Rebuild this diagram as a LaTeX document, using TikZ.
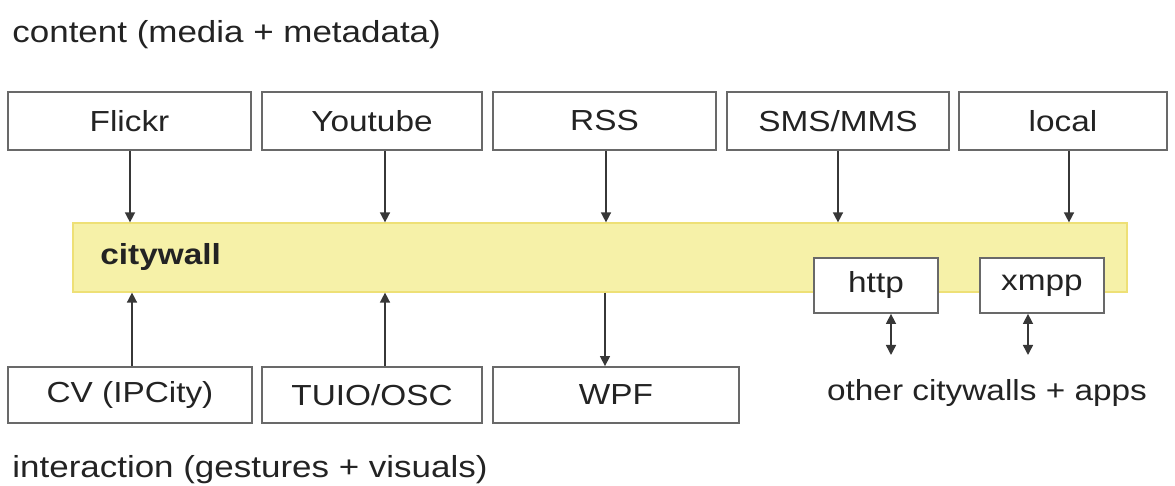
\documentclass[tikz,border=0pt]{standalone}
\usepackage{fontspec}
\setmainfont{Liberation Sans}[FakeStretch=1.15]
\usetikzlibrary{positioning,arrows.meta}
\definecolor{wallcolor}{RGB}{246,241,168}
\definecolor{wallborder}{RGB}{238,224,118}
\definecolor{boxline}{RGB}{105,105,105}
\definecolor{inkcolor}{RGB}{35,35,35}
\definecolor{arrowcolor}{RGB}{55,55,55}

\begin{document}
\begin{tikzpicture}[x=0.5pt, y=-0.5pt,
    srcbox/.style={rectangle, draw=boxline, line width=0.9pt, fill=white, minimum height=29pt, inner sep=0pt, font=\fontsize{14.5}{16}\selectfont, text=inkcolor},
    protobox/.style={srcbox, minimum width=62pt, minimum height=27.5pt},
    wall/.style={rectangle, draw=wallborder, fill=wallcolor, line width=0.6pt, minimum width=527pt, minimum height=34.5pt, inner sep=0pt},
    feed/.style={-{Triangle[width=5pt,length=5pt]}, line width=0.75pt, arrowcolor},
    link/.style={{Triangle[width=5pt,length=5pt]}-{Triangle[width=5pt,length=5pt]}, line width=0.75pt, arrowcolor},
    note/.style={font=\fontsize{14.5}{16}\selectfont, text=inkcolor, inner sep=0pt},
    heading/.style={note, font=\fontsize{15.2}{17}\selectfont, anchor=west}
]
\useasboundingbox (0,0) rectangle (1175,486);

% Section titles
\node[heading] (contenttitle) at (12, 35) {content (media + metadata)};
\node[heading] (interacttitle) at (12, 470) {interaction (gestures + visuals)};

% Content sources
\node[srcbox, minimum width=121.5pt] (flickr) at (129.5, 121) {Flickr};
\node[srcbox, minimum width=110pt] (youtube) at (372, 121) {Youtube};
\node[srcbox, minimum width=111.5pt] (rss) at (604.5, 121) {RSS};
\node[srcbox, minimum width=111pt] (sms) at (838, 121) {SMS/MMS};
\node[srcbox, minimum width=104pt] (local) at (1063, 121) {local};

% The citywall band
\node[wall] (wall) at (600, 257.5) {};
\node[note, font=\fontsize{14.5}{16}\selectfont\bfseries, anchor=west] (walltitle) at (100, 257) {citywall};

% Protocols
\node[protobox] (http) at (876, 285.5) {http};
\node[protobox] (xmpp) at (1042, 285.5) {xmpp};

% Interaction and output
\node[srcbox, minimum width=122pt, minimum height=28pt] (cv) at (130, 395) {CV (IPCity)};
\node[srcbox, minimum width=110pt, minimum height=28pt] (tuio) at (372, 395) {TUIO/OSC};
\node[srcbox, minimum width=123pt, minimum height=28pt] (wpf) at (616, 395) {WPF};
\node[note] (others) at (987, 393) {other citywalls + apps};

% Content arrows into the wall
\draw[feed] ([xshift=0.25pt]flickr.south) -- ([xshift=0.25pt]flickr.south |- wall.north);
\draw[feed] ([xshift=6.5pt]youtube.south) -- ([xshift=6.5pt]youtube.south |- wall.north);
\draw[feed] ([xshift=0.75pt]rss.south) -- ([xshift=0.75pt]rss.south |- wall.north);
\draw[feed] (sms) -- (sms |- wall.north);
\draw[feed] ([xshift=3pt]local.south) -- ([xshift=3pt]local.south |- wall.north);

% Interaction arrows
\draw[feed] ([xshift=1pt]cv.north) -- ([xshift=1pt]cv.north |- wall.south);
\draw[feed] ([xshift=6.5pt]tuio.north) -- ([xshift=6.5pt]tuio.north |- wall.south);
\draw[feed] ([xshift=-5.5pt]wpf.north |- wall.south) -- ([xshift=-5.5pt]wpf.north);

% Links to other walls
\coordinate (httpout) at (891, 355);
\coordinate (xmppout) at (1028, 355);
\draw[link] (http.south -| httpout) -- (httpout);
\draw[link] (xmpp.south -| xmppout) -- (xmppout);

\end{tikzpicture}
\end{document}
